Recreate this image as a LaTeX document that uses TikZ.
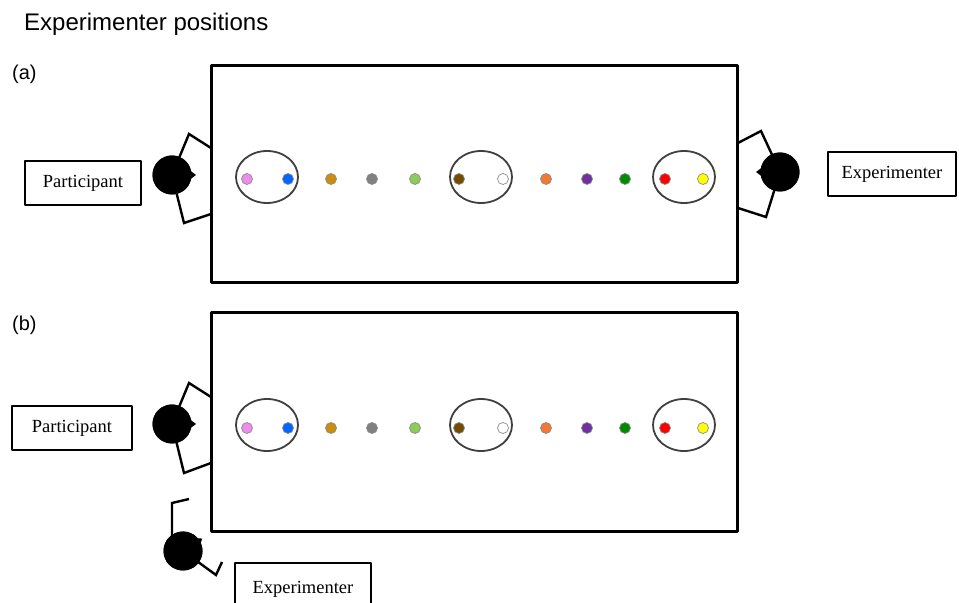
\documentclass[tikz,border=0pt]{standalone}
\usepackage{fontspec}
\setmainfont{Liberation Serif}
\newfontfamily\headfont{Liberation Sans}
\definecolor{dotpink}{rgb}{0.93,0.55,0.93}
\definecolor{dotblue}{rgb}{0.0,0.40,1.0}
\definecolor{dotgold}{rgb}{0.80,0.55,0.05}
\definecolor{dotgray}{rgb}{0.50,0.50,0.50}
\definecolor{dotlime}{rgb}{0.55,0.80,0.35}
\definecolor{dotbrown}{rgb}{0.45,0.30,0.0}
\definecolor{dotorange}{rgb}{0.95,0.47,0.20}
\definecolor{dotpurple}{rgb}{0.44,0.19,0.63}
\definecolor{dotgreen}{rgb}{0.0,0.55,0.0}
\definecolor{dotred}{rgb}{1.0,0.0,0.0}
\definecolor{dotyellow}{rgb}{1.0,1.0,0.0}
\tikzset{
  table/.style={draw,line width=3bp},
  namebox/.style={draw,line width=1.5bp,minimum width=116bp,minimum height=44bp,font=\fontsize{18.5bp}{22bp}\selectfont},
  head/.style={circle,fill=black,inner sep=0pt,minimum size=39bp},
  body/.style={line width=2.4bp,line join=miter},
  pair/.style={ellipse,draw=black!75,line width=1.8bp,minimum width=62bp,minimum height=52bp,inner sep=0pt},
  dot/.style={circle,draw=black!45,line width=0.7bp,inner sep=0pt,minimum size=11bp},
}
\usetikzlibrary{shapes.geometric}
\begin{document}
\begin{tikzpicture}[>=latex,line join=bevel,]
%%
\useasboundingbox (0bp,0bp) rectangle (959bp,603bp);
\begin{scope}
  \definecolor{fillcol}{rgb}{1.0,1.0,1.0};
  \filldraw[white,fill=fillcol] (0bp,0bp) -- (0bp,603bp) -- (959bp,603bp) -- (959bp,0bp) -- cycle;
\end{scope}
  \node (title) at (24bp,572bp) [anchor=base west,inner sep=0pt,font=\headfont\fontsize{24bp}{28bp}\selectfont] {Experimenter positions};
  \node (tag_a) at (12bp,529bp) [anchor=west,inner sep=0pt,font=\headfont\fontsize{20bp}{24bp}\selectfont] {(a)};
  \node (tag_b) at (12bp,278bp) [anchor=west,inner sep=0pt,font=\headfont\fontsize{20bp}{24bp}\selectfont] {(b)};
%% panel (a)
  \draw [table] (211bp,320bp) rectangle (737bp,537bp);
  \node (pair_a1) at (267bp,426bp) [pair] {};
  \node (pair_a2) at (481bp,426bp) [pair] {};
  \node (pair_a3) at (684bp,426bp) [pair] {};
  \node (dot_a1) at (247bp,424bp) [dot,fill=dotpink] {};
  \node (dot_a2) at (288bp,424bp) [dot,fill=dotblue] {};
  \node (dot_a3) at (331bp,424bp) [dot,fill=dotgold] {};
  \node (dot_a4) at (372bp,424bp) [dot,fill=dotgray] {};
  \node (dot_a5) at (415bp,424bp) [dot,fill=dotlime] {};
  \node (dot_a6) at (459bp,424bp) [dot,fill=dotbrown] {};
  \node (dot_a7) at (503bp,424bp) [dot,fill=white] {};
  \node (dot_a8) at (546bp,424bp) [dot,fill=dotorange] {};
  \node (dot_a9) at (587bp,424bp) [dot,fill=dotpurple] {};
  \node (dot_a10) at (625bp,424bp) [dot,fill=dotgreen] {};
  \node (dot_a11) at (665bp,424bp) [dot,fill=dotred] {};
  \node (dot_a12) at (703bp,424bp) [dot,fill=dotyellow] {};
  \node (part_a) at (83bp,420bp) [namebox] {Participant};
  \node (phead_a) at (172bp,428bp) [head] {};
  \draw [body] (211bp,455bp) -- (189bp,469bp) -- (phead_a.center) -- (184bp,380bp) -- (211bp,389bp);
  \node at (172bp,428bp) [head] {};
  \fill (188bp,434bp) -- (196bp,428bp) -- (188bp,422bp) -- cycle;
  \node (exp_a) at (892bp,429bp) [namebox,minimum width=128bp] {Experimenter};
  \node (ehead_a) at (780bp,431bp) [head] {};
  \draw [body] (738bp,460bp) -- (761bp,472bp) -- (ehead_a.center) -- (766bp,386bp) -- (738bp,395bp);
  \node at (780bp,431bp) [head] {};
  \fill (764bp,437bp) -- (756bp,431bp) -- (764bp,425bp) -- cycle;
%% panel (b)
  \draw [table] (211bp,71bp) rectangle (737bp,290bp);
  \node (pair_b1) at (267bp,178bp) [pair] {};
  \node (pair_b2) at (481bp,178bp) [pair] {};
  \node (pair_b3) at (684bp,178bp) [pair] {};
  \node (dot_b1) at (247bp,175bp) [dot,fill=dotpink] {};
  \node (dot_b2) at (288bp,175bp) [dot,fill=dotblue] {};
  \node (dot_b3) at (331bp,175bp) [dot,fill=dotgold] {};
  \node (dot_b4) at (372bp,175bp) [dot,fill=dotgray] {};
  \node (dot_b5) at (415bp,175bp) [dot,fill=dotlime] {};
  \node (dot_b6) at (459bp,175bp) [dot,fill=dotbrown] {};
  \node (dot_b7) at (503bp,175bp) [dot,fill=white] {};
  \node (dot_b8) at (546bp,175bp) [dot,fill=dotorange] {};
  \node (dot_b9) at (587bp,175bp) [dot,fill=dotpurple] {};
  \node (dot_b10) at (625bp,175bp) [dot,fill=dotgreen] {};
  \node (dot_b11) at (665bp,175bp) [dot,fill=dotred] {};
  \node (dot_b12) at (703bp,175bp) [dot,fill=dotyellow] {};
  \node (part_b) at (72bp,175bp) [namebox,minimum width=120bp] {Participant};
  \node (phead_b) at (172bp,179bp) [head] {};
  \draw [body] (211bp,206bp) -- (189bp,220bp) -- (phead_b.center) -- (184bp,130bp) -- (211bp,140bp);
  \node at (172bp,179bp) [head] {};
  \fill (188bp,185bp) -- (196bp,179bp) -- (188bp,173bp) -- cycle;
  \node (exp_b) at (303bp,14bp) [namebox,minimum width=136bp,minimum height=52bp] {Experimenter};
  \node (ehead_b) at (183bp,52bp) [head] {};
  \draw [body] (189bp,104bp) -- (172bp,100bp) -- (172bp,60bp) -- (ehead_b.center) -- (216bp,28bp) -- (222bp,41bp);
  \node at (183bp,52bp) [head] {};
  \fill (192.4bp,65.1bp) -- (202.3bp,64.4bp) -- (198.8bp,55.1bp) -- cycle;
%
\end{tikzpicture}
\end{document}
